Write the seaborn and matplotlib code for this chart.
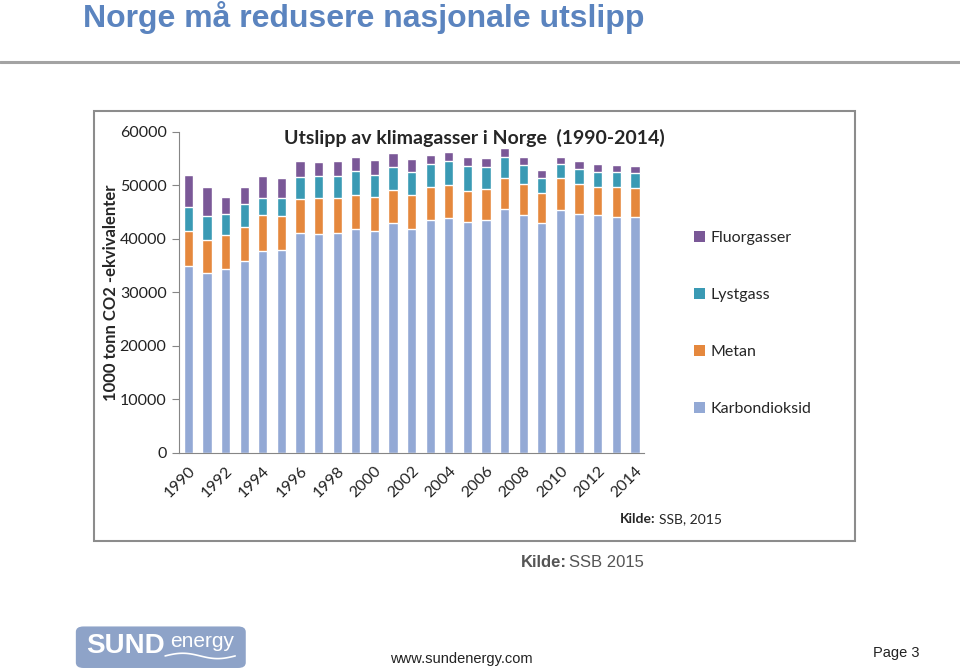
import pandas as pd
import numpy as np
import matplotlib
matplotlib.use('Agg')
import matplotlib.pyplot as plt
import seaborn as sns
from matplotlib.patches import Patch, Rectangle, FancyBboxPatch

# --- data (1000 tonn CO2-ekvivalenter) ---
years = list(range(1990, 2015))
karbondioksid = [34900, 33600, 34400, 35900, 37750, 37900, 41100, 40900, 41100, 41900,
                 41400, 43000, 41900, 43550, 44000, 43100, 43550, 45550, 44500, 43000,
                 45500, 44700, 44400, 44200, 44100]
metan = [6500, 6200, 6350, 6400, 6650, 6350, 6400, 6700, 6500, 6350,
         6400, 6200, 6400, 6150, 6050, 5950, 5850, 5850, 5700, 5600,
         5900, 5600, 5400, 5500, 5450]
lystgass = [4500, 4500, 3850, 4200, 3200, 3350, 4100, 4150, 4200, 4500,
            4100, 4200, 4250, 4350, 4500, 4500, 4050, 3850, 3550, 2850,
            2650, 2750, 2800, 2750, 2700]
fluorgasser = [6000, 5400, 3300, 3300, 4100, 3800, 2900, 2550, 2700, 2650,
               2900, 2700, 2350, 1700, 1700, 1850, 1650, 1800, 1650, 1500,
               1350, 1500, 1400, 1450, 1450]

gases = ['Karbondioksid', 'Metan', 'Lystgass', 'Fluorgasser']
colors = ['#93A9D5', '#E5883D', '#3A9AB4', '#7A5897']

df = pd.DataFrame({'year': years, 'Karbondioksid': karbondioksid, 'Metan': metan,
                   'Lystgass': lystgass, 'Fluorgasser': fluorgasser})
cum = df[gases].cumsum(axis=1)  # stacked tops
cum['year'] = df['year'].astype(str)

sns.set_style('white')
plt.rcParams['font.family'] = ['Lato', 'DejaVu Sans']

fig = plt.figure(figsize=(9.6, 6.7), dpi=100)

# slide header
fig.text(0.086, 0.974, 'Norge må redusere nasjonale utslipp', fontsize=23, fontweight='bold',
         color='#5B84BF', family='Liberation Sans', va='center', ha='left')
fig.add_artist(plt.Line2D([0, 1], [0.907, 0.907], color='#A3A3A3', lw=2.2))

# chart frame
fig.add_artist(Rectangle((0.098, 0.1925), 0.793, 0.6418, transform=fig.transFigure,
                         fill=False, edgecolor='#8C8C8C', lw=1.5))

ax = fig.add_axes([0.1865, 0.324, 0.4845, 0.479])

# draw from the tallest cumulative down so each layer shows
for gas, col in reversed(list(zip(gases, colors))):
    sns.barplot(data=cum, x='year', y=gas, color=col, width=0.5, saturation=1, ax=ax)

ax.set_ylim(0, 60000)
ax.set_xlim(-0.5, len(years) - 0.5)
ax.set_yticks(range(0, 60001, 10000))
ax.set_yticklabels([str(v) for v in range(0, 60001, 10000)], fontsize=11.5, color='#222222')
ax.set_xticks(range(0, len(years), 2))
ax.set_xticklabels([str(y) for y in years[::2]], rotation=45, ha='right',
                   rotation_mode='anchor', fontsize=11.5, color='#222222')
ax.set_xticks(np.arange(-0.5, len(years), 1), minor=True)
ax.tick_params(axis='x', which='major', length=0, pad=8)
ax.tick_params(axis='x', which='minor', length=5, color='#868686', direction='out')
ax.tick_params(axis='y', length=5, color='#868686', direction='out', left=True, pad=4)
ax.set_xlabel('')
ax.set_ylabel('1000 tonn CO2 -ekvivalenter', fontsize=12, fontweight='bold')
ax.yaxis.set_label_coords(-0.13, 0.5)
sns.despine(ax=ax)
for s in ['left', 'bottom']:
    ax.spines[s].set_color('#868686')

fig.text(0.494, 0.794, 'Utslipp av klimagasser i Norge  (1990-2014)', fontsize=14,
         fontweight='bold', ha='center', va='center')

handles = [Patch(facecolor=c, edgecolor='none') for c in reversed(colors)]
fig.legend(handles, list(reversed(gases)), loc='center left', bbox_to_anchor=(0.708, 0.517),
           frameon=False, fontsize=11.5, handlelength=0.7, handleheight=0.7,
           handletextpad=0.3, labelspacing=2.68)

fig.text(0.646, 0.225, 'Kilde:', fontsize=10, fontweight='bold', ha='left', va='center')
fig.text(0.686, 0.225, 'SSB, 2015', fontsize=10, ha='left', va='center')

# slide footer
fig.text(0.543, 0.161, 'Kilde:', fontsize=12, fontweight='bold', color='#555555',
         family='Liberation Sans', va='center')
fig.text(0.593, 0.161, 'SSB 2015', fontsize=12, color='#555555',
         family='Liberation Sans', va='center')

fig.add_artist(FancyBboxPatch((0.081, 0.005), 0.173, 0.058, boxstyle='round,pad=0.002,rounding_size=0.008',
                              transform=fig.transFigure, facecolor='#8EA3C8', edgecolor='none'))
fig.text(0.09, 0.036, 'SUND', fontsize=20, fontweight='bold', color='white',
         family='Liberation Sans', va='center')
fig.text(0.177, 0.043, 'energy', fontsize=15, color='white', family='Liberation Sans', va='center')
wx = np.linspace(0.172, 0.245, 60)
fig.add_artist(plt.Line2D(wx, 0.021 + 0.004 * np.sin((wx - 0.172) / 0.073 * 2 * np.pi),
                          color='white', lw=1.2, transform=fig.transFigure))
fig.text(0.406, 0.016, 'www.sundenergy.com', fontsize=10.5, color='#222222',
         family='Liberation Sans', va='center')
fig.text(0.909, 0.025, 'Page 3', fontsize=10.5, color='#222222', family='Liberation Sans', va='center')

fig.savefig('out.png', dpi=100)
